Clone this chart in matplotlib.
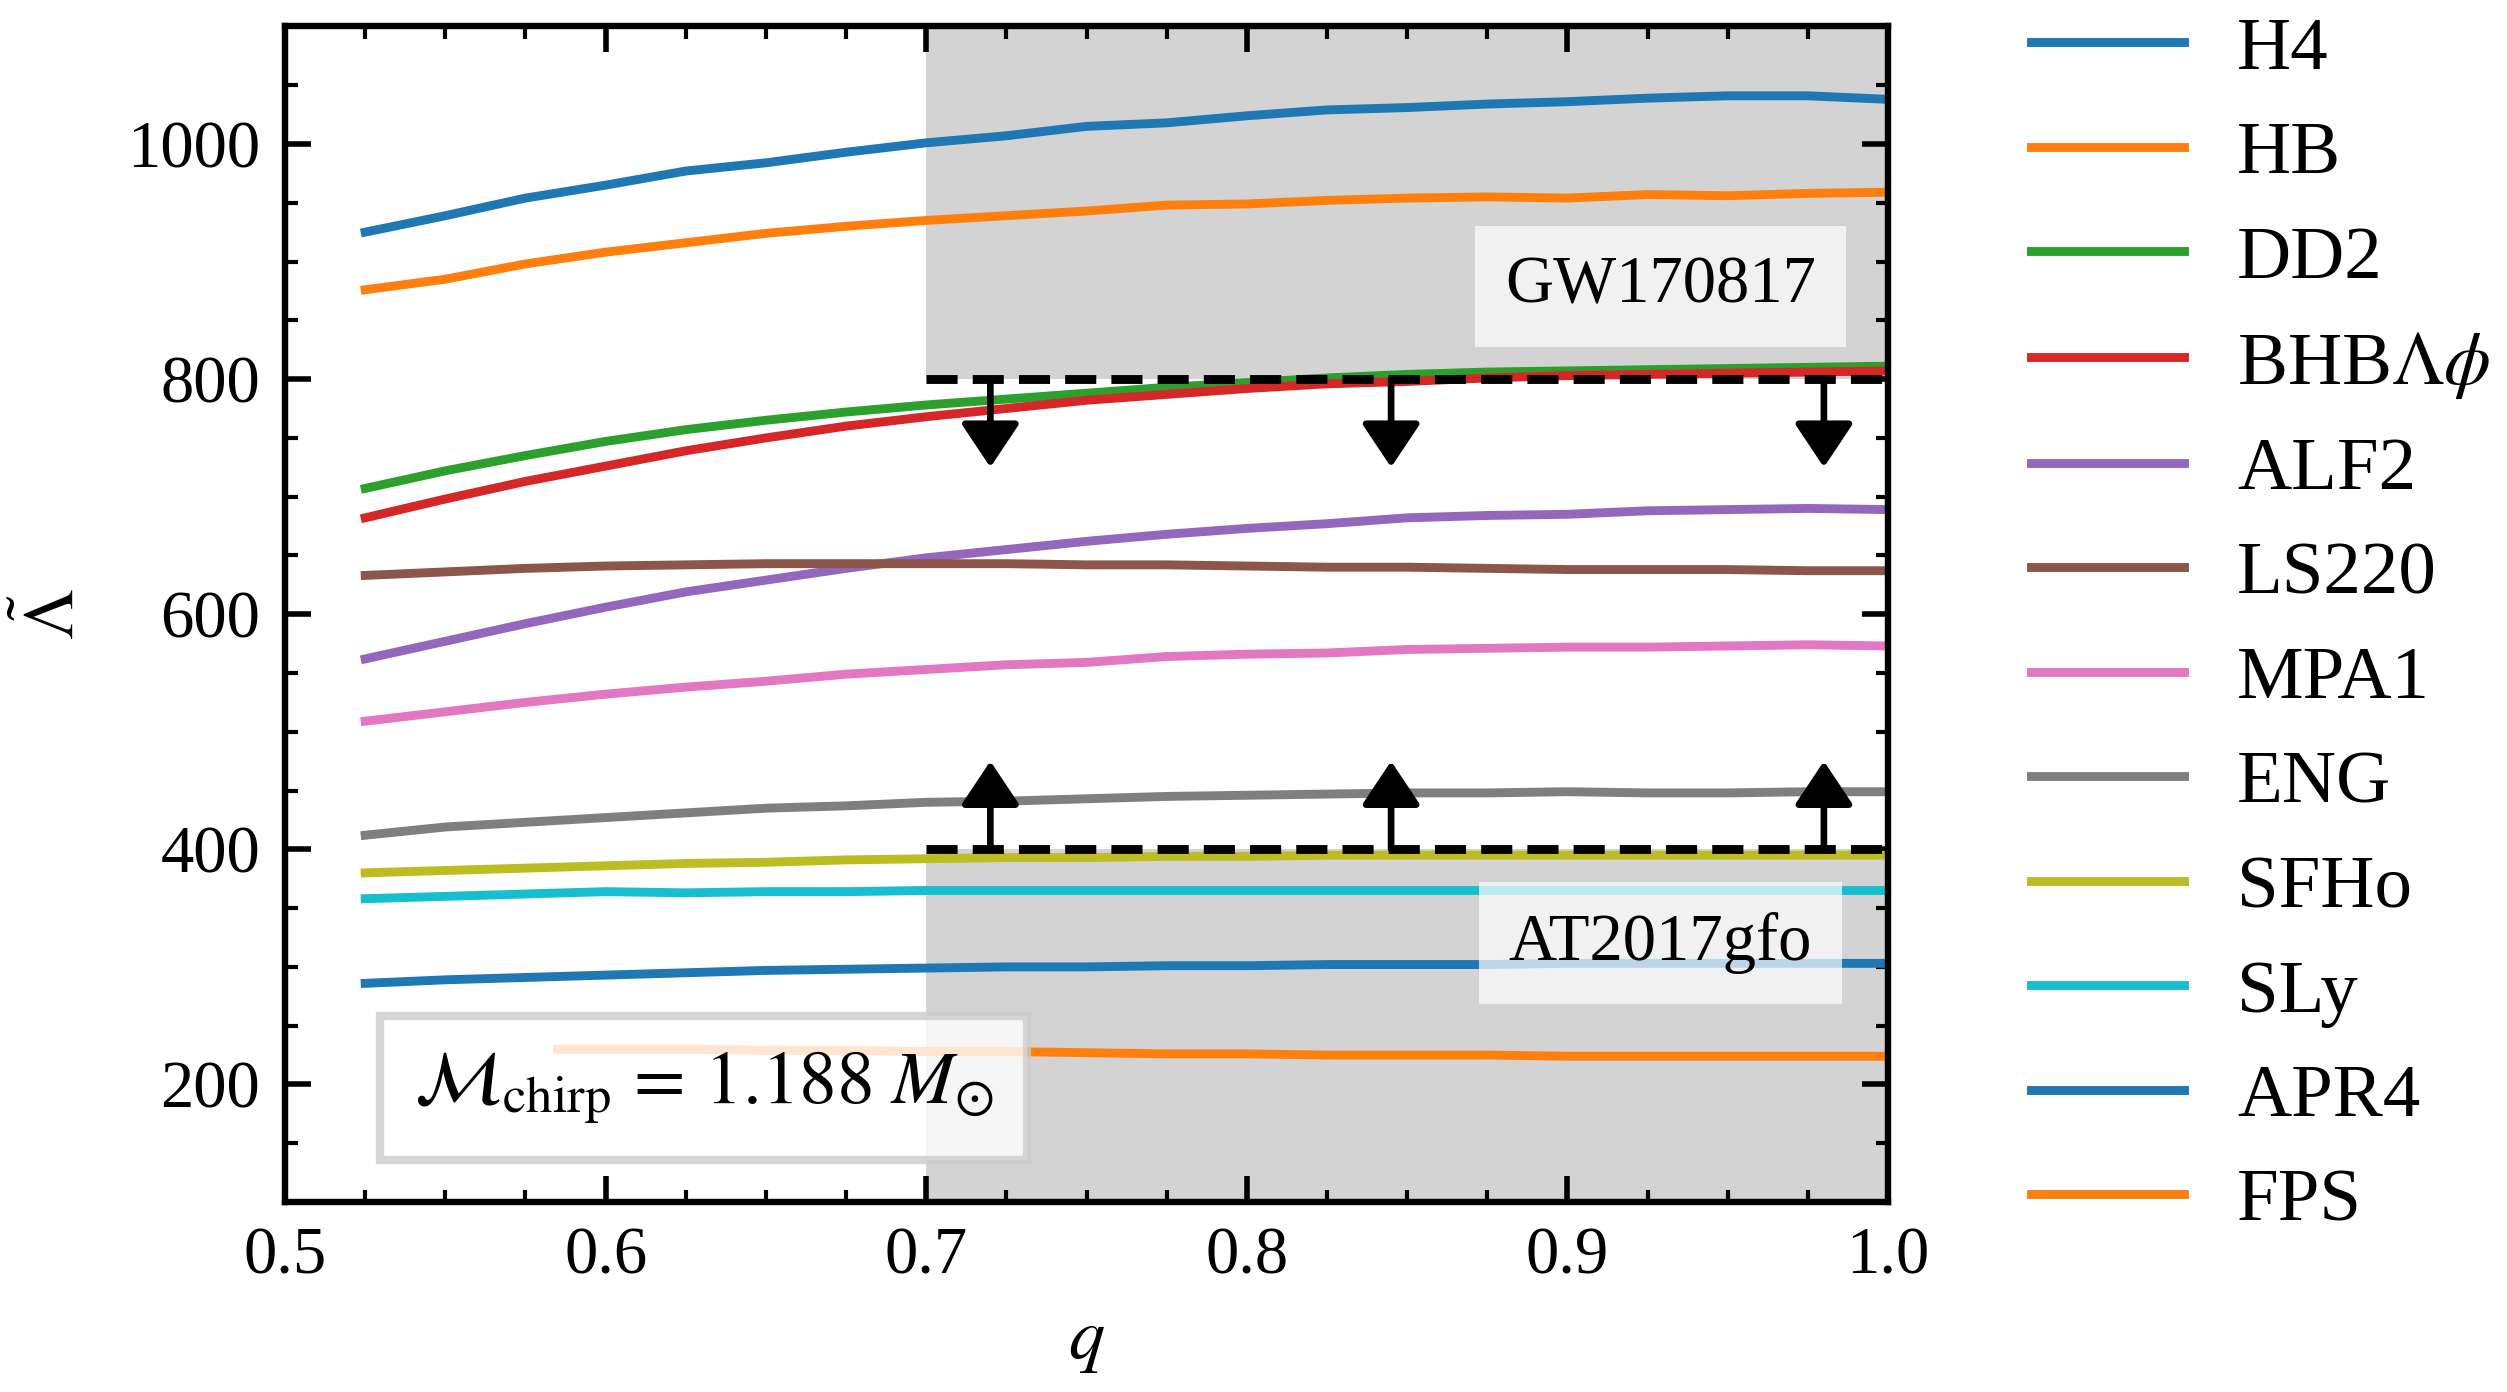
import matplotlib
matplotlib.use('Agg')
import matplotlib.pyplot as plt
from matplotlib.ticker import MultipleLocator

plt.rcParams['font.family'] = ['Liberation Serif', 'DejaVu Serif']
plt.rcParams['mathtext.fontset'] = 'stix'

# ---- data ----
q = [0.525, 0.55, 0.575, 0.60, 0.625, 0.65, 0.675, 0.70, 0.725, 0.75,
     0.775, 0.80, 0.825, 0.85, 0.875, 0.90, 0.925, 0.95, 0.975, 1.0]

lam_H4 = [925, 939, 954, 965, 977, 984, 993, 1001, 1007, 1015,
          1018, 1024, 1029, 1031, 1034, 1036, 1039, 1041, 1041, 1038]
lam_HB = [876, 885, 898, 908, 916, 924, 930, 935, 939, 943,
          948, 949, 952, 954, 955, 954, 957, 956, 958, 959]
lam_DD2 = [707, 722, 735, 747, 757, 765, 772, 778, 783, 788,
           793, 797, 801, 804, 806, 807, 808, 809, 810, 811]
lam_BHB = [682, 698, 713, 726, 739, 750, 760, 768, 775, 782,
           787, 792, 796, 798, 801, 803, 804, 805, 806, 807]
lam_ALF2 = [562, 577, 592, 606, 619, 629, 639, 648, 655, 662,
            668, 673, 677, 682, 684, 685, 688, 689, 690, 689]
lam_LS220 = [633, 636, 639, 641, 642, 643, 643, 643, 643, 642,
             642, 641, 640, 640, 639, 638, 638, 638, 637, 637]
lam_MPA1 = [509, 517, 525, 532, 538, 543, 549, 553, 557, 559,
            564, 566, 567, 570, 571, 572, 572, 573, 574, 573]
lam_ENG = [412, 419, 423, 427, 431, 435, 437, 440, 441, 443,
           445, 446, 447, 448, 448, 449, 448, 448, 449, 449]
lam_SFHo = [380, 382, 384, 386, 388, 389, 391, 392, 393, 393,
            394, 394, 395, 395, 395, 395, 395, 395, 395, 395]
lam_SLy = [358, 360, 362, 364, 363, 364, 364, 365, 365, 365,
           365, 365, 365, 365, 365, 365, 365, 365, 365, 365]
lam_APR4 = [286, 289, 291, 293, 295, 297, 298, 299, 300, 300,
            301, 301, 302, 302, 302, 303, 303, 303, 303, 303]

q_FPS = [0.585, 0.60, 0.625, 0.65, 0.675, 0.70, 0.725, 0.75, 0.775,
         0.80, 0.825, 0.85, 0.875, 0.90, 0.925, 0.95, 0.975, 1.0]
lam_FPS = [230, 230, 230, 229, 229, 228, 228, 227, 226,
           226, 225, 225, 225, 224, 224, 224, 224, 224]

eos_names = ['H4', 'HB', 'DD2', r'BHB$\Lambda\phi$', 'ALF2', 'LS220',
             'MPA1', 'ENG', 'SFHo', 'SLy', 'APR4', 'FPS']
eos_colors = ['C0', 'C1', 'C2', 'C3', 'C4', 'C5', 'C6', 'C7', 'C8', 'C9', 'C0', 'C1']

# constraints
gw_upper = 800
kn_lower = 400
q_min_obs = 0.7
arrow_q = [0.72, 0.845, 0.98]
arrow_len = 75

# ---- figure ----
fig = plt.figure(figsize=(12.535, 6.96), dpi=200)
ax = fig.add_axes([0.1137, 0.1365, 0.6394, 0.8445])

ax.fill_between([q_min_obs, 1.0], gw_upper, 1100, color='lightgray', lw=0, zorder=0)
ax.fill_between([q_min_obs, 1.0], 100, kn_lower, color='lightgray', lw=0, zorder=0)

all_lam = [lam_H4, lam_HB, lam_DD2, lam_BHB, lam_ALF2, lam_LS220,
           lam_MPA1, lam_ENG, lam_SFHo, lam_SLy, lam_APR4]
lines = []
for lam, name, c in zip(all_lam, eos_names[:-1], eos_colors[:-1]):
    ln, = ax.plot(q, lam, color=c, lw=3.2, label=name, zorder=2)
    lines.append(ln)
ln, = ax.plot(q_FPS, lam_FPS, color=eos_colors[-1], lw=3.2, label=eos_names[-1], zorder=2)
lines.append(ln)

ax.plot([q_min_obs, 1.0], [gw_upper, gw_upper], color='k', lw=3.2,
        dashes=(3.5, 1.7), zorder=3)
ax.plot([q_min_obs, 1.0], [kn_lower, kn_lower], color='k', lw=3.2,
        dashes=(3.5, 1.7), zorder=3)

astyle = '-|>,head_length=0.45,head_width=0.3'
for qa in arrow_q:
    ax.annotate('', xy=(qa, gw_upper - arrow_len), xytext=(qa, gw_upper),
                arrowprops=dict(arrowstyle=astyle, lw=2.4, color='k',
                                mutation_scale=30, shrinkA=0, shrinkB=0),
                zorder=4)
    ax.annotate('', xy=(qa, kn_lower + arrow_len), xytext=(qa, kn_lower),
                arrowprops=dict(arrowstyle=astyle, lw=2.4, color='k',
                                mutation_scale=30, shrinkA=0, shrinkB=0),
                zorder=4)

box = dict(boxstyle='square,pad=0.45', fc='white', ec='none', alpha=0.7)
ax.text(0.929, 879, 'GW170817', fontsize=24, ha='center', va='center',
        bbox=box, zorder=5)
ax.text(0.929, 320, 'AT2017gfo', fontsize=24, ha='center', va='center',
        bbox=box, zorder=5)
ax.text(0.6306, 197, r'$\mathcal{M}_{\rm chirp}\, =\, 1.188\ M_{\odot}$', fontsize=27,
        ha='center', va='center', zorder=5,
        bbox=dict(boxstyle='square,pad=0.45', fc='white', ec='0.8', lw=3, alpha=0.8))

ax.set_xlim(0.5, 1.0)
ax.set_ylim(100, 1100)
ax.xaxis.set_major_locator(MultipleLocator(0.1))
ax.xaxis.set_minor_locator(MultipleLocator(0.025))
ax.yaxis.set_major_locator(MultipleLocator(200))
ax.yaxis.set_minor_locator(MultipleLocator(50))
ax.tick_params(which='both', direction='in', top=True, right=True, labelsize=24)
ax.tick_params(which='major', length=9.5, width=2, pad=9)
ax.tick_params(which='minor', length=4.5, width=1.5)
for s in ax.spines.values():
    s.set_linewidth(2.3)

ax.set_xlabel(r'$q$', fontsize=26, labelpad=8)
ax.set_ylabel(r'$\tilde{\Lambda}$', fontsize=26, labelpad=14)

fig.legend(handles=lines, loc='upper left', bbox_to_anchor=(0.81, 0.9885),
           frameon=False, fontsize=27, handlelength=2.04, handletextpad=0.71,
           labelspacing=0.48, borderpad=0, borderaxespad=0)

fig.savefig('out.png', dpi=200)
